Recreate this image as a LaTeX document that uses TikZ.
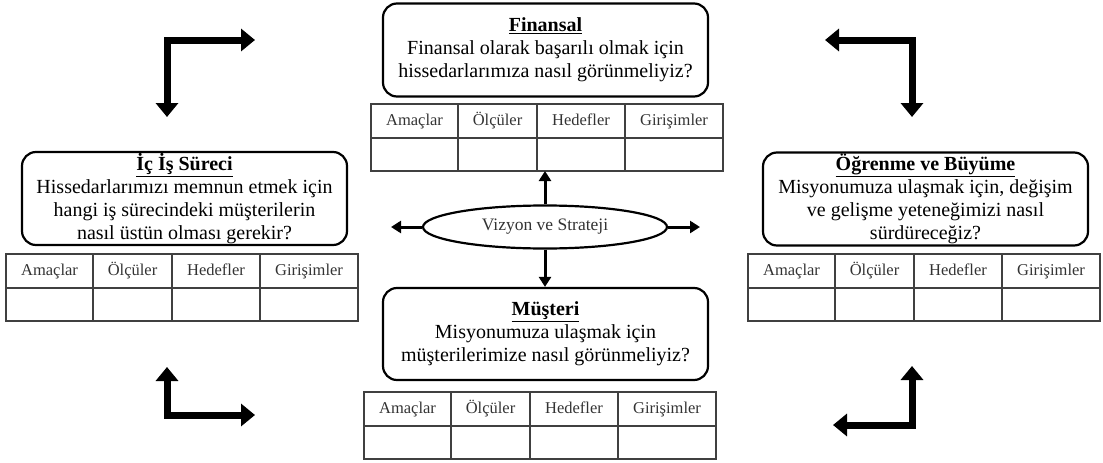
\documentclass[tikz,border=0pt]{standalone}
\usepackage{fontspec}
\setmainfont{Liberation Serif}
\usepackage{tikz}
\usetikzlibrary{arrows.meta,positioning,shapes.geometric}

% one table of Amaçlar / Ölçüler / Hedefler / Girişimler with an empty row below
\newcommand{\olcutablo}[3]{%
  \node[baslik, minimum width=87pt, anchor=north west] (#1a) at (#2,#3) {Amaçlar};
  \node[baslik, minimum width=79pt, right=0pt of #1a] (#1b) {Ölçüler};
  \node[baslik, minimum width=88pt, right=0pt of #1b] (#1c) {Hedefler};
  \node[baslik, minimum width=98pt, right=0pt of #1c] (#1d) {Girişimler};
  \node[hucre, minimum width=87pt, below=0pt of #1a] (#1a2) {};
  \node[hucre, minimum width=79pt, below=0pt of #1b] (#1b2) {};
  \node[hucre, minimum width=88pt, below=0pt of #1c] (#1c2) {};
  \node[hucre, minimum width=98pt, below=0pt of #1d] (#1d2) {};
}

\begin{document}
\begin{tikzpicture}[
  x=1pt, y=-1pt,
  kutu/.style={draw, line width=2.2pt, rounded corners=14pt, minimum width=325pt, minimum height=93pt,
    inner sep=0pt, align=center, font=\fontsize{20}{23}\selectfont},
  baslik/.style={draw=black!75, line width=1.3pt, outer sep=0pt, minimum height=34pt, inner sep=0pt,
    text height=12pt, text depth=4pt, font=\fontsize{16.5}{18}\selectfont, text=black!80},
  hucre/.style={draw=black!75, line width=1.3pt, outer sep=0pt, minimum height=33pt, inner sep=0pt},
  koseok/.style={line width=7pt, {Triangle[width=22pt,length=14pt]}-{Triangle[width=22pt,length=14pt]}},
  okkucuk/.style={line width=3pt, -{Triangle[width=12pt,length=10pt]}}
]
  \useasboundingbox (0,0) rectangle (1103,463);

  % the four perspectives
  \node[kutu] (fin) at (545.5,50) {\underline{\textbf{Finansal}}\\Finansal olarak başarılı olmak için\\hissedarlarımıza nasıl görünmeliyiz?};
  \node[kutu] (ic) at (184.5,198.5) {\underline{\textbf{İç İş Süreci}}\\Hissedarlarımızı memnun etmek için\\hangi iş sürecindeki müşterilerin\\nasıl üstün olması gerekir?};
  \node[kutu] (ogr) at (925.5,199) {\underline{\textbf{Öğrenme ve Büyüme}}\\Misyonumuza ulaşmak için, değişim\\ve gelişme yeteneğimizi nasıl\\sürdüreceğiz?};
  \node[kutu, minimum height=92pt] (mus) at (545.5,334) {\underline{\textbf{Müşteri}}\\Misyonumuza ulaşmak için\\müşterilerimize nasıl görünmeliyiz?};

  \olcutablo{fint}{371}{104}
  \olcutablo{ict}{6}{254}
  \olcutablo{ogrt}{748}{254}
  \olcutablo{must}{364}{392}

  % vision in the middle
  \node[draw, ellipse, line width=2.2pt, minimum width=244pt, minimum height=43pt, inner sep=0pt,
    font=\fontsize{17.5}{19}\selectfont, text=black!80] (vis) at (545,227) {Vizyon ve Strateji};
  \coordinate (visl) at (391,227);
  \coordinate (visr) at (700,227);
  \draw[okkucuk] (vis.north) -- (vis.north |- fintc2.south);
  \draw[okkucuk] (vis.south) -- (vis.south |- mus.north);
  \draw[okkucuk] (vis.west) -- (visl);
  \draw[okkucuk] (vis.east) -- (visr);

  % bent arrows in the corners
  \coordinate (k1a) at (255,40);  \coordinate (k1) at (167,40);  \coordinate (k1b) at (167,117);
  \coordinate (k2a) at (825,40);  \coordinate (k2) at (912,40);  \coordinate (k2b) at (912,117);
  \coordinate (k3a) at (167,367); \coordinate (k3) at (167,415); \coordinate (k3b) at (255,415);
  \coordinate (k4a) at (912,366); \coordinate (k4) at (912,425); \coordinate (k4b) at (833,425);
  \draw[koseok] (k1a) -- (k1) -- (k1b);
  \draw[koseok] (k2a) -- (k2) -- (k2b);
  \draw[koseok] (k3a) -- (k3) -- (k3b);
  \draw[koseok] (k4a) -- (k4) -- (k4b);
\end{tikzpicture}
\end{document}
